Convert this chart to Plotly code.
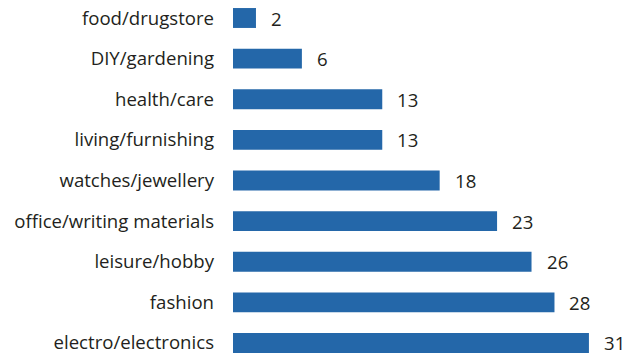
import plotly.graph_objects as go

categories = [
    "electro/electronics",
    "fashion",
    "leisure/hobby",
    "office/writing materials",
    "watches/jewellery",
    "living/furnishing",
    "health/care",
    "DIY/gardening",
    "food/drugstore",
]
values = [31, 28, 26, 23, 18, 13, 13, 6, 2]

bar_color = "#2467a9"
text_color = "#231f20"
font_family = "Open Sans, Noto Sans, sans-serif"
font_size = 18.6

fig = go.Figure(
    go.Bar(
        x=values,
        y=categories,
        orientation="h",
        width=0.49,
        marker=dict(color=bar_color, line=dict(width=0)),
        hoverinfo="skip",
    )
)

for cat, val in zip(categories, values):
    fig.add_annotation(
        x=val, y=cat, text=str(val), showarrow=False,
        xanchor="left", yanchor="middle", xshift=13,
        font=dict(family=font_family, size=font_size, color=text_color),
    )

fig.update_layout(
    width=636, height=357,
    margin=dict(l=233, r=0, t=0, b=0),
    paper_bgcolor="white", plot_bgcolor="white",
    showlegend=False,
    font=dict(family=font_family, size=font_size, color=text_color),
)
fig.update_xaxes(range=[0, 35.1], visible=False, fixedrange=True)
fig.update_yaxes(
    range=[-0.345, 8.443], showgrid=False, zeroline=False, showline=False,
    ticks="", ticklabelstandoff=18, fixedrange=True,
    tickfont=dict(family=font_family, size=font_size, color=text_color),
)

fig.write_html("out.html")
